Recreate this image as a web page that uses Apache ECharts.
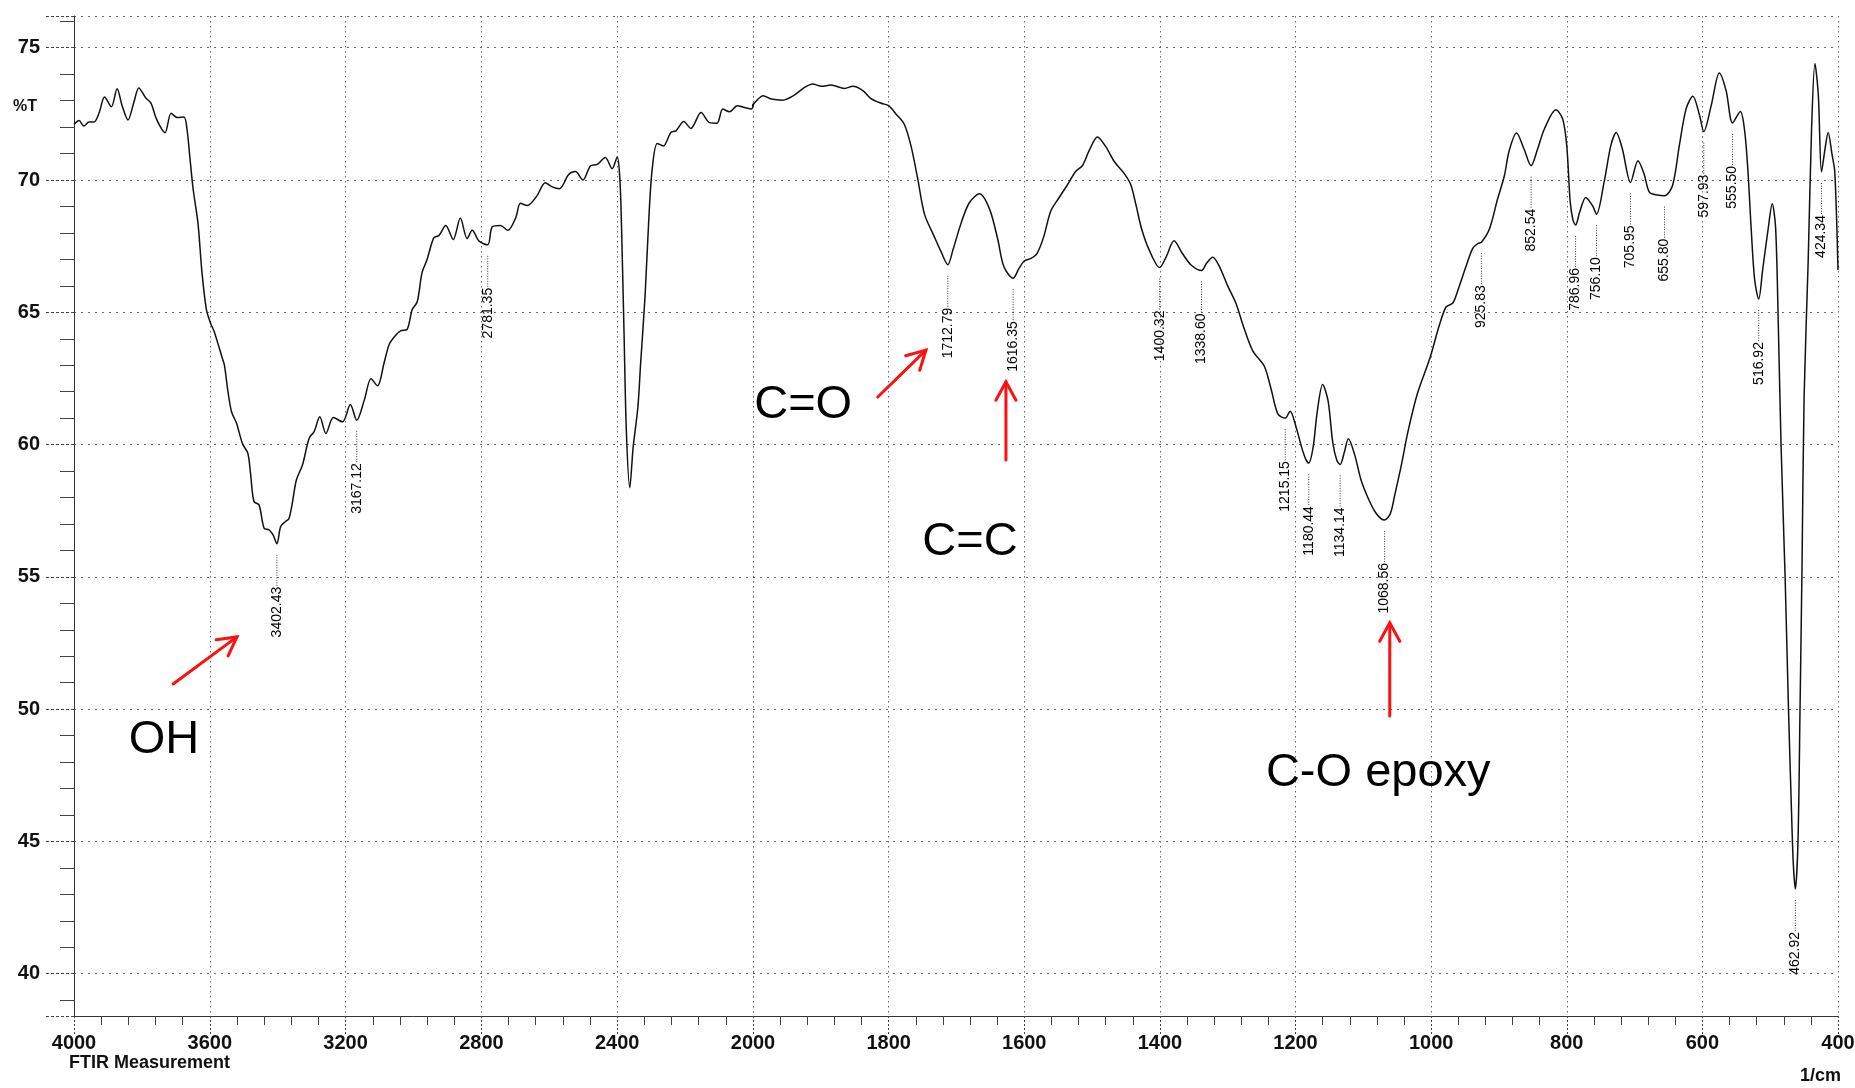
<!DOCTYPE html>
<html>
<head>
<meta charset="utf-8">
<title>FTIR Measurement</title>
<script src="https://cdn.jsdelivr.net/npm/echarts@6/dist/echarts.min.js"></script>
<style>
  html, body { margin: 0; padding: 0; background: #fff; }
  #chart { width: 1855px; height: 1088px; }
</style>
</head>
<body>
<div id="chart"></div>
<script>
// Spectrum, 4000 - 2000 1/cm (compressed half of the wavenumber axis)
const wnHigh = [4000, 3985, 3971, 3956, 3941, 3926, 3910, 3890, 3873, 3858,
  3841, 3824, 3809, 3789, 3773, 3757, 3732, 3714, 3696, 3676,
  3667, 3659, 3649, 3635, 3623, 3610, 3598, 3588, 3578, 3564,
  3557, 3547, 3536, 3521, 3504, 3488, 3480, 3470, 3455, 3440,
  3426, 3414, 3402.43, 3391, 3376, 3367, 3357, 3345, 3327, 3312,
  3305, 3293, 3276, 3258, 3236, 3209, 3186, 3167.12, 3145, 3125,
  3106, 3086, 3071, 3051, 3038, 3019, 3004, 2989, 2975, 2960,
  2940, 2925, 2905, 2883, 2862, 2842, 2827, 2807, 2781.35, 2768,
  2744, 2722, 2699, 2685, 2665, 2637, 2612, 2593, 2570, 2543,
  2523, 2501, 2479, 2459, 2435, 2415, 2400, 2392, 2387, 2380,
  2373, 2363, 2353, 2339, 2331, 2318, 2307, 2297, 2282, 2264,
  2242, 2227, 2204, 2183, 2153, 2128, 2106, 2089, 2069, 2046,
  2025, 2005, 1998];
const tHigh = [72.1, 72.25, 72.04, 72.19, 72.19, 72.54, 73.14, 72.77, 73.45, 72.8,
  72.27, 72.92, 73.48, 73.11, 72.9, 72.3, 71.79, 72.52, 72.36, 72.38,
  71.9, 70.9, 69.65, 68.39, 66.5, 65.1, 64.6, 64.3, 63.9, 63.3,
  63.0, 62.05, 61.24, 60.8, 60.04, 59.67, 58.9, 57.85, 57.72, 56.84,
  56.78, 56.6, 56.25, 56.91, 57.1, 57.2, 57.79, 58.66, 59.23, 60.04,
  60.3, 60.48, 61.05, 60.42, 61.02, 60.86, 61.51, 60.92, 61.68, 62.49,
  62.22, 63.12, 63.8, 64.15, 64.3, 64.35, 65.1, 65.4, 66.49, 67.0,
  67.82, 67.9, 68.28, 67.75, 68.56, 67.79, 68.1, 67.69, 67.55, 68.23,
  68.28, 68.1, 68.57, 69.12, 69.04, 69.39, 69.9, 69.75, 69.67, 70.21,
  70.32, 70.0, 70.53, 70.59, 70.85, 70.43, 70.87, 70.0, 68.1, 64.3,
  60.5, 58.37, 59.9, 61.43, 63.07, 65.6, 68.5, 70.4, 71.38, 71.29,
  71.8, 71.86, 72.21, 71.95, 72.55, 72.17, 72.15, 72.68, 72.58, 72.81,
  72.74, 72.68, 72.91];

// Spectrum, 2000 - 400 1/cm (expanded half)
const wnLow = [2005, 1998, 1985, 1973, 1956, 1939, 1924, 1912, 1899, 1885,
  1865, 1853, 1838, 1826, 1811, 1800, 1789, 1777, 1767, 1757,
  1747, 1733, 1723, 1712.79, 1705, 1693, 1681, 1666, 1651, 1639,
  1630, 1616.35, 1608, 1600, 1590, 1581, 1571, 1561, 1549, 1536,
  1524, 1514, 1504, 1492, 1480, 1467, 1453, 1443, 1435, 1427,
  1416, 1400.32, 1391, 1379, 1367, 1354, 1338.6, 1331, 1322, 1312,
  1300, 1288, 1276, 1263, 1246, 1236, 1226, 1215.15, 1208, 1199,
  1191, 1185, 1180.44, 1174, 1168, 1160, 1152, 1145, 1139, 1134.14,
  1128, 1122, 1113, 1103, 1093, 1083, 1074, 1068.56, 1060, 1054,
  1044, 1034, 1020, 1002, 988, 978, 968, 961, 949, 939,
  931, 925.83, 914, 902, 892, 885, 874, 863, 852.54, 843,
  833, 816, 806, 800, 795, 791, 786.96, 781, 772, 762,
  756.1, 745, 735, 727, 718, 705.95, 695, 686, 678, 666,
  655.8, 644, 634, 624, 614, 604, 597.93, 587, 575, 565,
  555.5, 544, 538, 533, 528, 523, 516.92, 511, 503, 497,
  492, 488, 484, 478, 473, 469, 466, 462.92, 459, 456,
  453, 450, 444, 439, 434, 429, 424.34, 419, 414.5, 409,
  404.7, 400];
const tLow = [72.68, 72.91, 73.19, 73.06, 73.02, 73.21, 73.5, 73.63, 73.54, 73.59,
  73.46, 73.54, 73.38, 73.08, 72.9, 72.81, 72.49, 72.11, 71.29, 70.03,
  68.7, 67.88, 67.31, 66.8, 67.37, 68.38, 69.14, 69.48, 68.89, 67.75,
  66.72, 66.29, 66.65, 66.94, 67.04, 67.23, 67.88, 68.82, 69.32, 69.83,
  70.33, 70.55, 71.13, 71.63, 71.27, 70.69, 70.26, 69.83, 69.03, 68.16,
  67.37, 66.69, 67.08, 67.7, 67.23, 66.79, 66.58, 66.86, 67.08, 66.72,
  66.0, 65.35, 64.41, 63.54, 62.96, 62.1, 61.16, 61.0, 61.26, 60.65,
  59.9, 59.45, 59.3, 59.9, 61.23, 62.27, 61.66, 60.07, 59.4, 59.25,
  59.71, 60.22, 59.64, 58.63, 57.98, 57.47, 57.2, 57.15, 57.4, 58.05,
  59.21, 60.51, 61.95, 63.25, 64.5, 65.2, 65.35, 65.8, 66.7, 67.4,
  67.6, 67.65, 68.15, 69.28, 70.16, 71.1, 71.78, 71.17, 70.54, 71.17,
  71.93, 72.66, 72.31, 71.3, 69.2, 68.5, 68.3, 68.78, 69.34, 69.03,
  68.71, 69.91, 71.3, 71.8, 71.17, 69.91, 70.73, 70.23, 69.53, 69.43,
  69.41, 69.79, 71.3, 72.69, 73.17, 72.43, 71.83, 72.81, 74.05, 73.38,
  72.16, 72.59, 71.93, 70.42, 68.15, 66.25, 65.5, 66.63, 68.15, 69.1,
  68.2, 64.5, 60.0, 55.0, 50.0, 46.5, 44.2, 43.2, 45.0, 50.0,
  55.5, 61.8, 66.9, 71.9, 74.4, 73.2, 70.3, 71.2, 71.8, 71.0,
  70.29, 66.6];

// Peak positions printed by the instrument (1/cm)
const peaksHigh = [3402.43, 3167.12, 2781.35];
const peaksLow = [1712.79, 1616.35, 1400.32, 1338.60, 1215.15, 1180.44, 1134.14,
  1068.56, 925.83, 852.54, 786.96, 756.10, 705.95, 655.80, 597.93, 555.50,
  516.92, 462.92, 424.34];

// Band assignments: text and where it sits (wavenumber, %T)
const noteText = ['OH', 'C=O', 'C=C', 'C-O epoxy'];
const noteWn = [3735, 1926, 1680, 1078];
const noteT = [48.83, 61.5, 56.32, 47.6];

// Red arrows pointing at the assigned bands: tail -> head
const arrowFromWn = [3708, 1816, 1627, 1061];
const arrowFromT = [50.95, 61.8, 59.42, 49.74];
const arrowToWn = [3520, 1745, 1627, 1061];
const arrowToT = [52.73, 63.57, 62.37, 53.26];

// ---------------------------------------------------------------
const FONT = '"Liberation Sans", Arial, Helvetica, sans-serif';
const INK = '#111';

const zip = (a, b) => a.map((v, i) => [v, b[i]]);
const specHigh = zip(wnHigh, tHigh);
const specLow = zip(wnLow, tLow);

// band minima are taken from the spectrum itself
function peakPoints(peaks, wn, t) {
  return peaks.map(p => {
    const i = wn.findIndex(w => Math.abs(w - p) < 1e-6);
    return [p, t[i]];
  });
}

const notesHi = [], notesLo = [], arrowsHi = [], arrowsLo = [];
noteText.forEach((txt, i) => {
  (noteWn[i] > 2000 ? notesHi : notesLo).push([noteWn[i], noteT[i], i]);
});
arrowFromWn.forEach((w, i) => {
  (w > 2000 ? arrowsHi : arrowsLo).push([w, arrowFromT[i], arrowToWn[i], arrowToT[i]]);
});

// Dotted leader under each band minimum with its wavenumber printed vertically
function renderPeak(params, api) {
  const wn = api.value(0);
  const p = api.coord([wn, api.value(1)]);
  const y0 = p[1] + 11;
  const y1 = y0 + 31;
  return {
    type: 'group',
    children: [
      { type: 'line', shape: { x1: p[0], y1: y0, x2: p[0], y2: y1 },
        style: { stroke: '#333', lineWidth: 1, lineDash: [1, 1.5] } },
      { type: 'text', x: p[0], y: y1 + 1, rotation: Math.PI / 2,
        style: { text: wn.toFixed(2), font: '14px ' + FONT, fill: '#000',
                 align: 'right', verticalAlign: 'middle' } }
    ]
  };
}

function renderNote(params, api) {
  const p = api.coord([api.value(0), api.value(1)]);
  return {
    type: 'text', x: p[0], y: p[1],
    style: { text: noteText[api.value(2)], font: '47px ' + FONT, fill: '#000',
             align: 'center', verticalAlign: 'middle' }
  };
}

function renderArrow(params, api) {
  const a = api.coord([api.value(0), api.value(1)]);
  const b = api.coord([api.value(2), api.value(3)]);
  const ang = Math.atan2(b[1] - a[1], b[0] - a[0]);
  const L = 21, spread = 0.5;
  const h1 = [b[0] - L * Math.cos(ang - spread), b[1] - L * Math.sin(ang - spread)];
  const h2 = [b[0] - L * Math.cos(ang + spread), b[1] - L * Math.sin(ang + spread)];
  const st = { stroke: '#ff1010', lineWidth: 3, fill: null, lineCap: 'round' };
  return {
    type: 'group',
    children: [
      { type: 'line', shape: { x1: a[0], y1: a[1], x2: b[0], y2: b[1] }, style: st },
      { type: 'polyline', shape: { points: [h1, b, h2] }, style: st }
    ]
  };
}

const hGrid = { show: true, lineStyle: { color: '#666', width: 1, type: [2, 5] } };
const vGrid = { show: true, lineStyle: { color: '#666', width: 1, type: [1.5, 3.5] } };
const tickLabel = { fontSize: 20, fontFamily: FONT, fontWeight: 'bold', color: INK,
                    formatter: v => String(v) };

function xAxisFor(gridIndex, min, max, interval, extraLabel) {
  return {
    gridIndex, type: 'value', min, max, interval, inverse: true,
    axisLine: { show: true, onZero: false, lineStyle: { color: '#333', width: 1 } },
    axisTick: { show: true, length: 18, lineStyle: { color: '#444', type: [2, 2] } },
    minorTick: { show: true, splitNumber: 5, length: 9, lineStyle: { color: '#444' } },
    axisLabel: Object.assign({ margin: 17 }, tickLabel, extraLabel || {}),
    splitLine: vGrid
  };
}

const yBase = { type: 'value', min: 38.4, max: 76.2, splitNumber: 8 };

const option = {
  animation: false,
  backgroundColor: '#fff',
  grid: [
    { left: 74, top: 16, width: 679, height: 1000, outerBoundsMode: 'none' },
    { left: 753, top: 16, width: 1085, height: 1000, outerBoundsMode: 'none' }
  ],
  xAxis: [
    xAxisFor(0, 2000, 4000, 400),
    xAxisFor(1, 400, 2000, 200, { showMaxLabel: false })
  ],
  yAxis: [
    Object.assign({}, yBase, {
      gridIndex: 0,
      axisLine: { show: true, onZero: false, lineStyle: { color: '#333', width: 1 } },
      axisTick: { show: true, length: 28, lineStyle: { color: '#444', type: [3, 2] } },
      minorTick: { show: true, splitNumber: 5, length: 14, lineStyle: { color: '#444' } },
      axisLabel: Object.assign({ margin: 34, showMinLabel: false, showMaxLabel: false }, tickLabel),
      splitLine: hGrid
    }),
    Object.assign({}, yBase, {
      gridIndex: 1,
      axisLine: { show: false }, axisTick: { show: false }, axisLabel: { show: false },
      splitLine: hGrid
    })
  ],
  graphic: [
    { type: 'text', left: 13, top: 99, silent: true,
      style: { text: '%T', font: 'bold 16px ' + FONT, fill: INK } },
    { type: 'text', left: 69, top: 1054, silent: true,
      style: { text: 'FTIR Measurement', font: 'bold 18px ' + FONT, fill: INK } },
    { type: 'text', right: 14, top: 1067, silent: true,
      style: { text: '1/cm', font: 'bold 18px ' + FONT, fill: INK } }
  ],
  series: [
    { type: 'line', xAxisIndex: 0, yAxisIndex: 0, data: specHigh, showSymbol: false,
      smooth: 0.3, clip: true, lineStyle: { color: '#111', width: 1.5 }, silent: true },
    { type: 'line', xAxisIndex: 1, yAxisIndex: 1, data: specLow, showSymbol: false,
      smooth: 0.3, clip: true, lineStyle: { color: '#111', width: 1.5 }, silent: true },
    { type: 'custom', xAxisIndex: 0, yAxisIndex: 0, data: peakPoints(peaksHigh, wnHigh, tHigh),
      renderItem: renderPeak, silent: true, z: 3 },
    { type: 'custom', xAxisIndex: 1, yAxisIndex: 1, data: peakPoints(peaksLow, wnLow, tLow),
      renderItem: renderPeak, silent: true, z: 3 },
    { type: 'custom', xAxisIndex: 0, yAxisIndex: 0, data: notesHi,
      encode: { x: 0, y: 1 }, renderItem: renderNote, silent: true, z: 4 },
    { type: 'custom', xAxisIndex: 1, yAxisIndex: 1, data: notesLo,
      encode: { x: 0, y: 1 }, renderItem: renderNote, silent: true, z: 4 },
    { type: 'custom', xAxisIndex: 0, yAxisIndex: 0, data: arrowsHi,
      encode: { x: [0, 2], y: [1, 3] }, renderItem: renderArrow, silent: true, z: 4 },
    { type: 'custom', xAxisIndex: 1, yAxisIndex: 1, data: arrowsLo,
      encode: { x: [0, 2], y: [1, 3] }, renderItem: renderArrow, silent: true, z: 4 }
  ]
};

const chart = echarts.init(document.getElementById('chart'), null, { renderer: 'canvas' });
chart.setOption(option);
</script>
</body>
</html>
